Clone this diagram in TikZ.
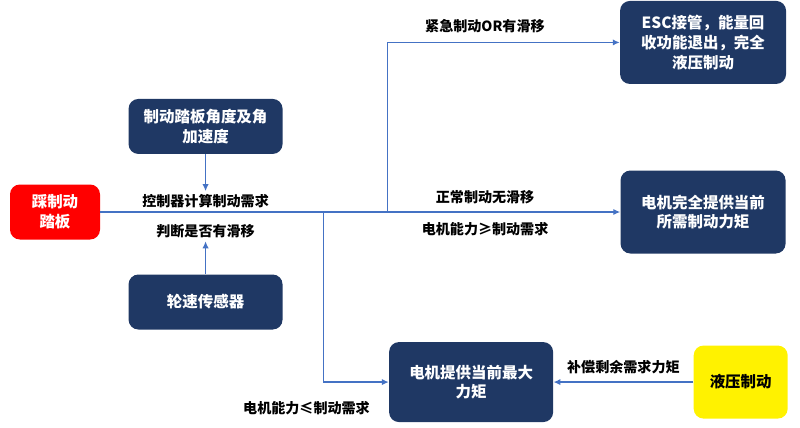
\documentclass[tikz,border=0pt]{standalone}
\usepackage{fontspec}
\setmainfont{Noto Sans CJK SC}
\usetikzlibrary{arrows.meta,positioning,calc}

\definecolor{navy}{HTML}{1F3864}
\definecolor{wire}{HTML}{4472C4}

\begin{document}
\begin{tikzpicture}[
  block/.style={draw=none, rounded corners=7pt, align=center, fill=navy, text=white, font=\fontsize{11}{14}\selectfont\bfseries},
  pedalbox/.style={block, fill=red, minimum width=2.25cm, minimum height=1.375cm},
  hydbox/.style={block, fill=yellow, text=black, minimum width=2.35cm, minimum height=1.825cm},
  lbl/.style={align=center, inner sep=2pt, text=black, font=\fontsize{10}{12}\selectfont\bfseries},
  arr/.style={-{Latex[length=5pt,width=4.5pt]}, wire, line width=1pt},
  wireline/.style={wire, line width=1pt}
]

\useasboundingbox (0,0) rectangle (20,-10.675);

\node[pedalbox] (pedal) at (1.375,-5.3) {踩制动\\踏板};
\node[block, minimum width=4.125cm, minimum height=2.075cm, right=13cm of pedal] (full) {电机完全提供当前\\所需制动力矩};
\node[block, minimum width=4.15cm, minimum height=2.075cm, above=2.15cm of full] (esc) {ESC接管，能量回\\收功能退出，完全\\液压制动};
\node[block, minimum width=3.85cm, minimum height=1.375cm, above right=0.75cm and 0.7cm of pedal] (angle) {制动踏板角度及角\\加速度};
\node[block, minimum width=3.85cm, minimum height=1.375cm, below=3cm of angle] (wheel) {轮速传感器};
\node[block, minimum width=4.1cm, minimum height=2cm, below right=0.3cm and 2.65cm of wheel] (maxtq) {电机提供当前最大\\力矩};
\node[hydbox, right=3.5cm of maxtq] (hyd) {液压制动};

\node[lbl, below=0.925cm of angle] (demand) {控制器计算制动需求};
\node[lbl, above=0.825cm of wheel] (slip) {判断是否有滑移};
\node[lbl, anchor=east] (less) at ($(maxtq.west)+(-0.4,-0.65)$) {电机能力≤制动需求};

\coordinate (up) at ($(pedal.east)+(7.175,0)$);
\coordinate (down) at ($(pedal.east)+(5.575,0)$);

\draw[arr] (angle) -- (demand);
\draw[arr] (wheel) -- (slip);
\draw[arr] (pedal) -- node[pos=0.74, above=3pt, lbl] (normal) {正常制动无滑移}
  node[pos=0.74, below=5pt, lbl] (more) {电机能力≥制动需求} (full);
\draw[arr] (up) |- node[pos=0.71, above=4pt, lbl] (emerg) {紧急制动OR有滑移} (esc);
\draw[arr] (down) |- (maxtq);
\draw[arr] (hyd) -- node[midway, above=3pt, lbl] (comp) {补偿剩余需求力矩} (maxtq);

\end{tikzpicture}
\end{document}
